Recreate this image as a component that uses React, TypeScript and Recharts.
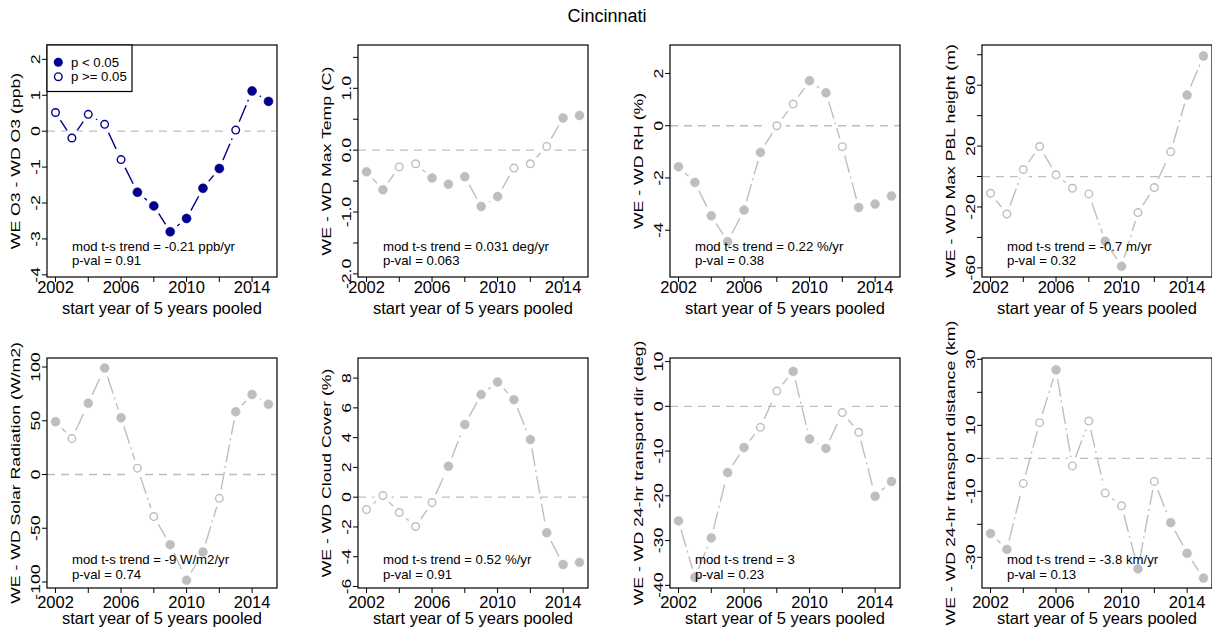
import React from 'react';
import { LineChart, Line, XAxis, YAxis, ReferenceLine } from 'recharts';

const font = "'Liberation Sans', Arial, Helvetica, sans-serif";
const NAVY = '#00008B';
const GRAY = '#BEBEBE';

const years = [2002, 2003, 2004, 2005, 2006, 2007, 2008, 2009, 2010, 2011, 2012, 2013, 2014, 2015];
const xTicks = [2002, 2004, 2006, 2008, 2010, 2012, 2014];
const xLabeled = [2002, 2006, 2010, 2014];

// WE - WD differences, and whether p < 0.05 (1) or not (0)
const o3Diff = [0.52, -0.19, 0.47, 0.19, -0.79, -1.7, -2.08, -2.8, -2.43, -1.59, -1.04, 0.03, 1.12, 0.83];
const o3Sig = [0, 0, 0, 0, 0, 1, 1, 1, 1, 1, 1, 0, 1, 1];

const tempDiff = [-0.35, -0.64, -0.27, -0.22, -0.45, -0.55, -0.43, -0.91, -0.75, -0.29, -0.22, 0.06, 0.52, 0.56];
const tempSig = [1, 1, 0, 0, 1, 1, 1, 1, 1, 0, 0, 0, 1, 1];

const rhDiff = [-1.57, -2.17, -3.45, -4.44, -3.23, -1.02, 0.0, 0.83, 1.72, 1.26, -0.8, -3.13, -3.0, -2.69];
const rhSig = [1, 1, 1, 1, 1, 1, 0, 0, 1, 1, 0, 1, 1, 1];

const pblDiff = [-11, -24.6, 4.6, 19.7, 1.1, -7.7, -11.4, -42.5, -59, -23.7, -7.2, 16.2, 53.5, 79.2];
const pblSig = [0, 0, 0, 0, 0, 0, 0, 1, 1, 0, 0, 0, 1, 1];

const solarDiff = [49.1, 33.4, 66.3, 99.1, 52.8, 5.9, -39.1, -65.3, -98.4, -72.2, -22.2, 58.4, 74.4, 65.3];
const solarSig = [1, 0, 1, 1, 1, 0, 0, 1, 1, 1, 0, 1, 1, 1];

const cloudDiff = [-0.83, 0.11, -1.03, -1.97, -0.36, 2.08, 4.88, 6.89, 7.74, 6.55, 3.87, -2.39, -4.52, -4.38];
const cloudSig = [0, 0, 0, 0, 0, 1, 1, 1, 1, 1, 1, 1, 1, 1];

const dirDiff = [-25.6, -38.2, -29.4, -14.8, -9.2, -4.7, 3.4, 7.8, -7.3, -9.4, -1.4, -5.8, -20.1, -16.8];
const dirSig = [1, 1, 1, 1, 1, 0, 0, 1, 1, 1, 0, 0, 1, 1];

const distDiff = [-22.8, -27.6, -7.6, 10.8, 26.8, -2.3, 11.3, -10.5, -14.4, -33.5, -7.0, -19.5, -28.8, -36.3];
const distSig = [1, 1, 0, 0, 1, 0, 0, 0, 0, 1, 0, 1, 1, 1];

// layout of the 2 x 4 grid (plot box positions)
const BOX_W = 230;
const colLeft = [47, 358, 670, 982];
const rowLayout = [
  { top: 45, h: 232, tickBase: 293, titleBase: 313.5, ann1: 250.5, ann2: 264.5 },
  { top: 358, h: 230, tickBase: 608, titleBase: 624, ann1: 563.5, ann2: 578.5 },
];
const ML = 50;
const MR = 14;
const MT = 12;
const MB = 52;
const X_MIN = 2001.48;
const X_MAX = 2015.52;

interface Spec {
  yLabel: string;
  values: number[];
  sig: number[];
  color: string;
  domain: [number, number];
  ticks: number[];
  labeled: number[];
  digits: number;
  trend: string;
  pval: string;
  legend?: boolean;
}

const specs: Spec[] = [
  {
    yLabel: 'WE O3 - WD O3 (ppb)', values: o3Diff, sig: o3Sig, color: NAVY,
    domain: [-4.06, 2.4], ticks: [-4, -3, -2, -1, 0, 1, 2], labeled: [-4, -3, -2, -1, 0, 1, 2], digits: 0,
    trend: 'mod t-s trend = -0.21 ppb/yr', pval: 'p-val = 0.91', legend: true,
  },
  {
    yLabel: 'WE - WD Max Temp (C)', values: tempDiff, sig: tempSig, color: GRAY,
    domain: [-2.05, 1.7], ticks: [-2, -1.5, -1, -0.5, 0, 0.5, 1, 1.5], labeled: [-2, -1, 0, 1], digits: 1,
    trend: 'mod t-s trend = 0.031 deg/yr', pval: 'p-val = 0.063',
  },
  {
    yLabel: 'WE - WD RH (%)', values: rhDiff, sig: rhSig, color: GRAY,
    domain: [-5.79, 3.09], ticks: [-4, -2, 0, 2], labeled: [-4, -2, 0, 2], digits: 0,
    trend: 'mod t-s trend = 0.22 %/yr', pval: 'p-val = 0.38',
  },
  {
    yLabel: 'WE - WD Max PBL height (m)', values: pblDiff, sig: pblSig, color: GRAY,
    domain: [-66, 86.4], ticks: [-60, -40, -20, 0, 20, 40, 60, 80], labeled: [-60, -20, 20, 60], digits: 0,
    trend: 'mod t-s trend = -0.7 m/yr', pval: 'p-val = 0.32',
  },
  {
    yLabel: 'WE - WD Solar Radiation (W/m2)', values: solarDiff, sig: solarSig, color: GRAY,
    domain: [-105.6, 108.4], ticks: [-100, -50, 0, 50, 100], labeled: [-100, -50, 0, 50, 100], digits: 0,
    trend: 'mod t-s trend = -9 W/m2/yr', pval: 'p-val = 0.74',
  },
  {
    yLabel: 'WE - WD Cloud Cover (%)', values: cloudDiff, sig: cloudSig, color: GRAY,
    domain: [-6.1, 9.35], ticks: [-6, -4, -2, 0, 2, 4, 6, 8], labeled: [-6, -4, -2, 0, 2, 4, 6, 8], digits: 0,
    trend: 'mod t-s trend = 0.52 %/yr', pval: 'p-val = 0.91',
  },
  {
    yLabel: 'WE - WD 24-hr transport dir (deg)', values: dirDiff, sig: dirSig, color: GRAY,
    domain: [-40.6, 10.8], ticks: [-40, -30, -20, -10, 0, 10], labeled: [-40, -30, -20, -10, 0, 10], digits: 0,
    trend: 'mod t-s trend = 3', pval: 'p-val = 0.23',
  },
  {
    yLabel: 'WE - WD 24-hr transport distance (km)', values: distDiff, sig: distSig, color: GRAY,
    domain: [-39.3, 30.4], ticks: [-30, -20, -10, 0, 10, 20, 30], labeled: [-30, -10, 0, 10, 30], digits: 0,
    trend: 'mod t-s trend = -3.8 km/yr', pval: 'p-val = 0.13',
  },
];

// rotated text in the original is a bit stretched along the text and thinner across it
const ROT = 'rotate(-90) scale(1.07,0.76)';
const GAP = 9; // type="b" gap around each point
const DASH = '18 4 2 4';

function Panel({ spec, col, row }: { spec: Spec; col: number; row: number }) {
  const lay = rowLayout[row];
  const W = ML + BOX_W + MR;
  const H = MT + lay.h + MB;
  const left = colLeft[col] - ML;
  const top = lay.top - MT;

  const segKeys = spec.values.slice(1).map((_, k) => `s${k}`);
  const data = years.map((year, i) => {
    const r: Record<string, number | null> = { year, v: spec.values[i], sig: spec.sig[i] };
    segKeys.forEach((key, k) => {
      r[key] = i === k || i === k + 1 ? spec.values[i] : null;
    });
    return r;
  });

  const xPix = (yr: number) => ML + ((yr - X_MIN) / (X_MAX - X_MIN)) * BOX_W;

  const renderDot = (p: any) => {
    const { cx, cy, index, payload } = p;
    if (cx == null || cy == null) return <g key={`d${index}`} />;
    const filled = payload.sig === 1;
    return (
      <g key={`d${index}`}>
        <circle cx={cx} cy={cy} r={GAP} fill="#fff" stroke="none" />
        {filled ? (
          <circle cx={cx} cy={cy} r={4.5} fill={spec.color} stroke={spec.color} strokeWidth={0.5} />
        ) : (
          <circle cx={cx} cy={cy} r={3.8} fill="#fff" stroke={spec.color} strokeWidth={1.4} />
        )}
      </g>
    );
  };

  const yTick = (p: any) => {
    const { x, y, payload } = p;
    const v = payload.value as number;
    if (!spec.labeled.some((l) => Math.abs(l - v) < 1e-9)) return <g />;
    return (
      <g transform={`translate(${x},${y})`}>
        <text transform={ROT} textAnchor="middle" fontSize={16.5} fontFamily={font} fill="#000">
          {v.toFixed(spec.digits)}
        </text>
      </g>
    );
  };

  const xTick = (p: any) => {
    const { x, payload } = p;
    const v = payload.value as number;
    if (!xLabeled.includes(v)) return <g />;
    return (
      <text x={x} y={lay.tickBase - top} textAnchor="middle" fontSize={16.5} fontFamily={font} fill="#000">
        {v}
      </text>
    );
  };

  return (
    <div style={{ position: 'absolute', left, top, width: W, height: H }}>
      <LineChart width={W} height={H} data={data} margin={{ top: MT, right: MR, left: 0, bottom: 0 }}>
        <XAxis
          dataKey="year" type="number" domain={[X_MIN, X_MAX]} allowDataOverflow
          ticks={xTicks} interval={0} height={MB} axisLine={false}
          tickLine={{ stroke: '#000', strokeWidth: 1 }} tickSize={5} tick={xTick}
        />
        <YAxis
          type="number" domain={spec.domain} allowDataOverflow ticks={spec.ticks} interval={0}
          width={ML} axisLine={false} tickLine={{ stroke: '#000', strokeWidth: 1 }} tickSize={5} tick={yTick}
        />
        {segKeys.map((key) => (
          <Line
            key={key} dataKey={key} stroke={spec.color} strokeWidth={1.4} strokeDasharray={DASH}
            strokeDashoffset={-GAP} dot={false} activeDot={false} connectNulls={false}
            isAnimationActive={false} type="linear"
          />
        ))}
        <Line
          dataKey="v" stroke="none" dot={renderDot} activeDot={false}
          isAnimationActive={false} type="linear"
        />
        <ReferenceLine y={0} stroke={GRAY} strokeWidth={1.3} strokeDasharray="8 6" />
      </LineChart>
      <svg
        width={W} height={H}
        style={{ position: 'absolute', left: 0, top: 0, pointerEvents: 'none', overflow: 'visible' }}
      >
        <rect x={ML} y={MT} width={BOX_W} height={lay.h} fill="none" stroke="#000" strokeWidth={1.2} />
        <g transform={`translate(${ML - 27},${MT + lay.h / 2})`}>
          <text transform={ROT} textAnchor="middle" fontSize={16.5} fontFamily={font} fill="#000">
            {spec.yLabel}
          </text>
        </g>
        <text x={ML + BOX_W / 2} y={lay.titleBase - top} textAnchor="middle" fontSize={16.5} fontFamily={font} fill="#000">
          start year of 5 years pooled
        </text>
        <text x={xPix(2003)} y={lay.ann1 - top} fontSize={13.2} fontFamily={font} fill="#000">
          {spec.trend}
        </text>
        <text x={xPix(2003)} y={lay.ann2 - top} fontSize={13.2} fontFamily={font} fill="#000">
          {spec.pval}
        </text>
        {spec.legend && (
          <g>
            <rect x={ML} y={MT} width={85} height={46.5} fill="#fff" stroke="#000" strokeWidth={1.2} />
            <circle cx={ML + 11.3} cy={MT + 17.3} r={4.5} fill={NAVY} />
            <text x={ML + 24} y={MT + 21.8} fontSize={13.2} fontFamily={font} fill="#000">p &lt; 0.05</text>
            <circle cx={ML + 11.3} cy={MT + 31.7} r={3.8} fill="#fff" stroke={NAVY} strokeWidth={1.4} />
            <text x={ML + 24} y={MT + 36.2} fontSize={13.2} fontFamily={font} fill="#000">p &gt;= 0.05</text>
          </g>
        )}
      </svg>
    </div>
  );
}

export default function App() {
  return (
    <div style={{ position: 'absolute', left: 0, top: 0, width: 1212, height: 632, overflow: 'hidden', background: '#fff' }}>
      <svg width={1212} height={40} style={{ position: 'absolute', left: 0, top: 0 }}>
        <text x={607} y={22} textAnchor="middle" fontSize={18} fontFamily={font} fill="#000">
          Cincinnati
        </text>
      </svg>
      {specs.map((spec, i) => (
        <Panel key={i} spec={spec} col={i % 4} row={Math.floor(i / 4)} />
      ))}
    </div>
  );
}
